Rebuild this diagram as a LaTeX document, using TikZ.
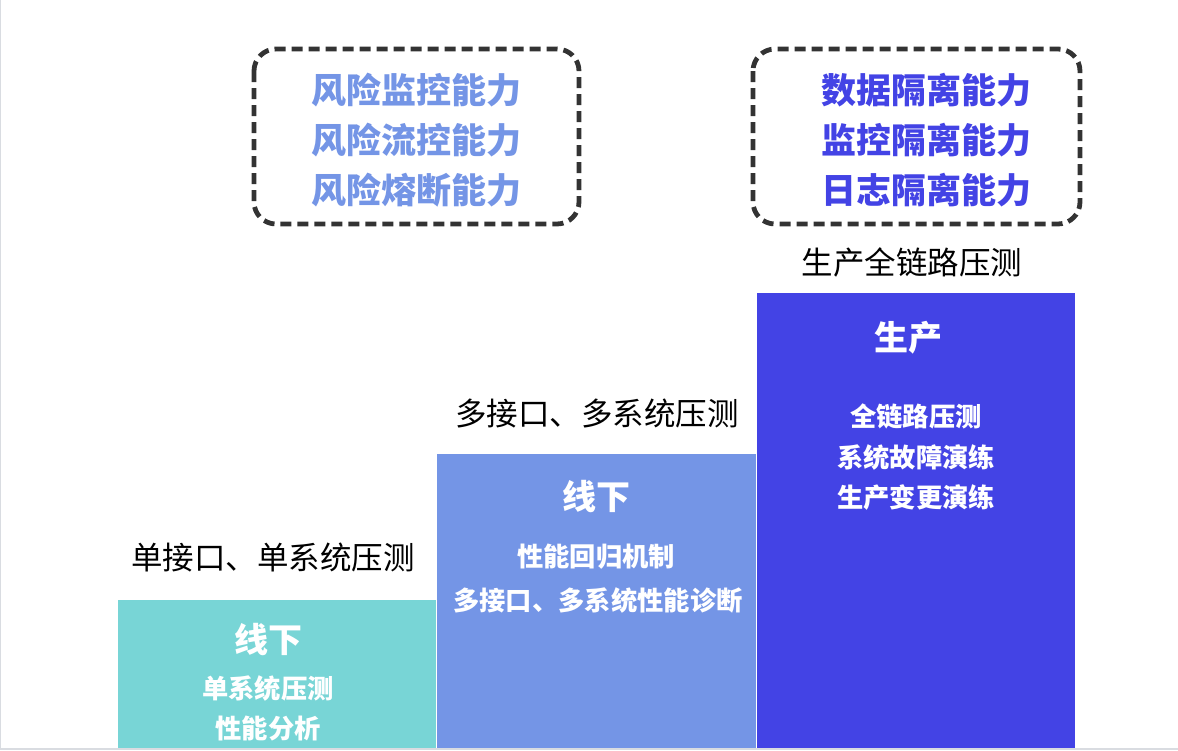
\documentclass[tikz,border=0pt]{standalone}
\usepackage{fontspec}
\setmainfont{Noto Sans CJK SC}
\usetikzlibrary{positioning}
\definecolor{teal1}{HTML}{78D5D6}
\definecolor{blue1}{HTML}{7495E6}
\definecolor{blue2}{HTML}{4343E5}
\definecolor{dashgray}{HTML}{333333}
\definecolor{edgegray}{HTML}{D9DCE1}
\begin{document}
\begin{tikzpicture}[x=1pt,y=-1pt,
  dbox/.style={draw=dashgray,line width=4.8pt,dash pattern=on 11pt off 6pt,rounded corners=22pt},
  cap34/.style={font=\fontsize{35}{40}\selectfont\bfseries,inner sep=0pt},
  lbl/.style={font=\fontsize{31.5}{36}\selectfont,inner sep=0pt,text=black},
  title/.style={font=\fontsize{34}{38}\selectfont\bfseries,inner sep=0pt,text=white},
  sub/.style={font=\fontsize{26.3}{30}\selectfont\bfseries,inner sep=0pt,text=white}]
\useasboundingbox (0,0) rectangle (1178,750);
\fill[white] (0,0) rectangle (1178,750);
\fill[edgegray] (0,747.5) rectangle (1178,750);
\fill[edgegray] (0,0) rectangle (1,750);
% stage boxes
\fill[teal1] (118,600) rectangle (436,748);
\fill[blue1] (437,454) rectangle (756,748);
\fill[blue2] (757,293) rectangle (1075,748);
% dashed boxes
\draw[dbox] (254,49) rectangle (579,224);
\draw[dbox] (753,49) rectangle (1080,224);
\node[cap34,text=blue1] (r1) at (416,90) {风险监控能力};
\node[cap34,text=blue1] (r2) at (416,140) {风险流控能力};
\node[cap34,text=blue1] (r3) at (416,190) {风险熔断能力};
\node[cap34,text=blue2] (g1) at (926,90) {数据隔离能力};
\node[cap34,text=blue2] (g2) at (926,140) {监控隔离能力};
\node[cap34,text=blue2] (g3) at (926,190) {日志隔离能力};
% labels above boxes
\node[lbl] (l1) at (273,557) {单接口、单系统压测};
\node[lbl] (l2) at (597,413) {多接口、多系统压测};
\node[lbl] (l3) at (912,262) {生产全链路压测};
% box 1 text
\node[title] (t1) at (268,640) {线下};
\node[sub] (s11) at (268,688) {单系统压测};
\node[sub] (s12) at (268,728) {性能分析};
% box 2 text
\node[title] (t2) at (596,497) {线下};
\node[sub] (s21) at (596,557) {性能回归机制};
\node[sub] (s22) at (598,600) {多接口、多系统性能诊断};
% box 3 text
\node[title] (t3) at (908,338) {生产};
\node[sub] (s31) at (916,416) {全链路压测};
\node[sub] (s32) at (916,457) {系统故障演练};
\node[sub] (s33) at (916,498) {生产变更演练};
\end{tikzpicture}
\end{document}
